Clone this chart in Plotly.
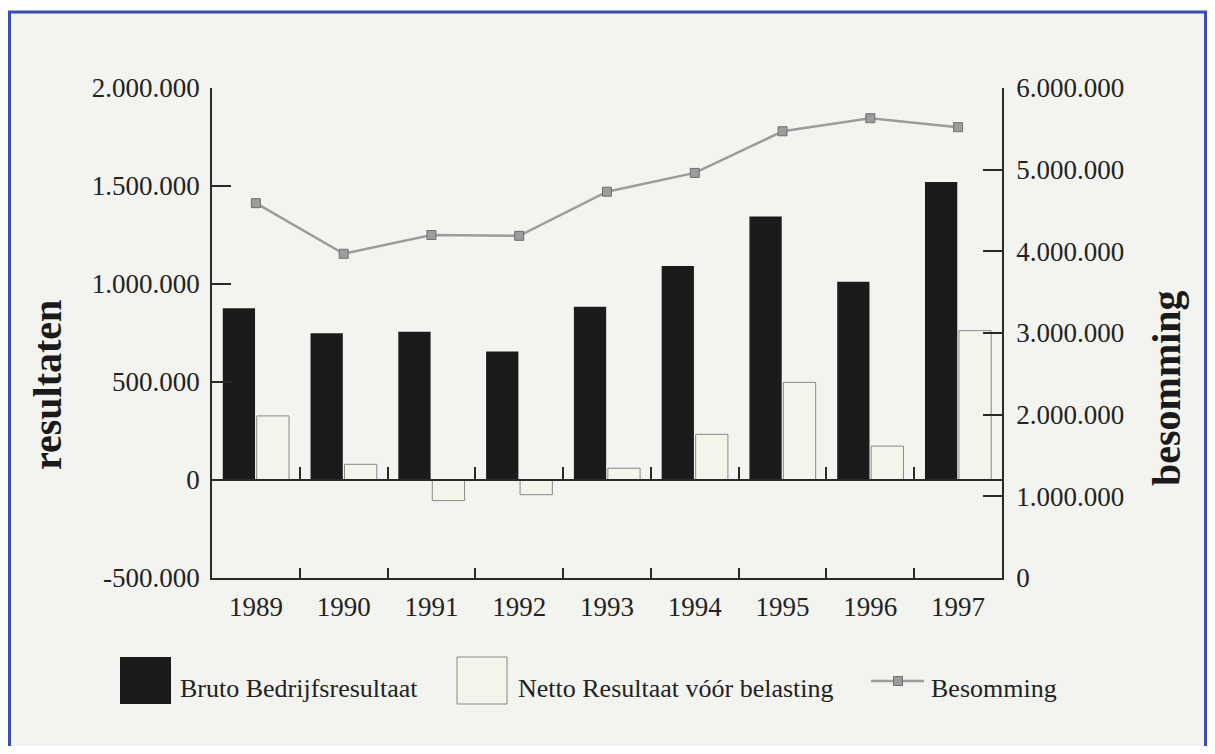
import plotly.graph_objects as go

# ---- data ----
years = ["1989", "1990", "1991", "1992", "1993", "1994", "1995", "1996", "1997"]
bruto = [876000, 749000, 757000, 655000, 884000, 1092000, 1344000, 1012000, 1520000]
netto = [327000, 80000, -105000, -75000, 60000, 233000, 498000, 173000, 762000]
besomming = [4590000, 3970000, 4200000, 4190000, 4730000, 4960000, 5470000, 5630000, 5520000]

left_tickvals = [-500000, 0, 500000, 1000000, 1500000, 2000000]
left_ticktext = ["-500.000", "0", "500.000", "1.000.000", "1.500.000", "2.000.000"]
right_tickvals = [0, 1000000, 2000000, 3000000, 4000000, 5000000, 6000000]
right_ticktext = ["0", "1.000.000", "2.000.000", "3.000.000", "4.000.000", "5.000.000", "6.000.000"]

names = ["Bruto Bedrijfsresultaat", "Netto Resultaat vóór belasting", "Besomming"]
titles = ["resultaten", "besomming"]

# ---- style ----
FONT = "Liberation Serif"
BLACK_BAR = "#1b1b1b"
LIGHT_BAR = "#f4f4ea"
LIGHT_EDGE = "#8a8a8a"
LINE_COL = "#9c9c9c"
MARK_EDGE = "#6f6f6f"
AXIS_COL = "#2a2a2a"
BG = "#f3f3f0"
BORDER = "#3b4db3"

# page geometry (screen px); the page body has an 8px margin
OFF = 8
W, H = 1215 - 2 * OFF, 754 - 2 * OFF
PL, PR, PT, PB = 212, 1002, 88, 578  # plot area on screen


def fx(p):
    return (p - PL) / (PR - PL)


def fy(p):
    return (PB - p) / (PB - PT)


fig = go.Figure()
fig.add_trace(go.Bar(x=years, y=bruto, name=names[0], marker=dict(color=BLACK_BAR, line=dict(width=0)),
                     showlegend=False))
fig.add_trace(go.Bar(x=years, y=netto, name=names[1],
                     marker=dict(color=LIGHT_BAR, line=dict(color=LIGHT_EDGE, width=1)), showlegend=False))
fig.add_trace(go.Scatter(x=years, y=besomming, name=names[2], xaxis="x2", yaxis="y2", mode="lines+markers",
                         line=dict(color=LINE_COL, width=2.5),
                         marker=dict(symbol="square", size=9, color=LINE_COL, line=dict(color=MARK_EDGE, width=1)),
                         showlegend=False))

tickfont = dict(family=FONT, size=27, color="#222222")
zero_pos = (0 - left_tickvals[0]) / (left_tickvals[-1] - left_tickvals[0])

fig.update_layout(
    width=W, height=H,
    margin=dict(l=PL - OFF, r=(1215 - OFF) - PR, t=PT - OFF, b=(754 - OFF) - PB, pad=0),
    paper_bgcolor="white",
    plot_bgcolor="rgba(0,0,0,0)",
    barmode="group", bargap=0.226, bargroupgap=0.05,
    font=dict(family=FONT, color="#222222"),
    xaxis=dict(type="category", categoryorder="array", categoryarray=years,
               range=[-0.5, len(years) - 0.5], showgrid=False, zeroline=False,
               showline=True, linecolor=AXIS_COL, linewidth=1.5, ticks="inside", tickson="boundaries",
               ticklen=10, tickcolor=AXIS_COL, tickwidth=1.5, tickfont=tickfont, ticklabelstandoff=4),
    xaxis2=dict(type="category", categoryorder="array", categoryarray=years, overlaying="x",
                anchor="free", position=zero_pos, range=[-0.5, len(years) - 0.5],
                showgrid=False, zeroline=False, showline=True, linecolor=AXIS_COL, linewidth=1.5,
                ticks="inside", tickson="boundaries", ticklen=12, tickcolor=AXIS_COL, tickwidth=1.5,
                showticklabels=False),
    yaxis=dict(range=[left_tickvals[0], left_tickvals[-1]], tickvals=left_tickvals, ticktext=left_ticktext,
               showgrid=False, zeroline=False, showline=True, linecolor=AXIS_COL, linewidth=1.5,
               ticks="inside", ticklen=19, tickcolor=AXIS_COL, tickwidth=1.5, tickfont=tickfont,
               ticklabelstandoff=5),
    yaxis2=dict(range=[right_tickvals[0], right_tickvals[-1]], tickvals=right_tickvals, ticktext=right_ticktext,
                overlaying="y", anchor="x", side="right", showgrid=False, zeroline=False, showline=True,
                linecolor=AXIS_COL, linewidth=1.5, ticks="inside", ticklen=19, tickcolor=AXIS_COL,
                tickwidth=1.5, tickfont=tickfont, ticklabelstandoff=7),
)

shapes = [
    # background panel with blue border
    dict(type="rect", xref="paper", yref="paper", x0=fx(9.5), x1=fx(1205.5), y0=fy(790), y1=fy(12),
         fillcolor=BG, line=dict(color=BORDER, width=3), layer="below"),
    # legend swatches
    dict(type="rect", xref="paper", yref="paper", x0=fx(120), x1=fx(171), y0=fy(704), y1=fy(657),
         fillcolor=BLACK_BAR, line=dict(width=0)),
    dict(type="rect", xref="paper", yref="paper", x0=fx(457), x1=fx(507), y0=fy(704), y1=fy(657),
         fillcolor=LIGHT_BAR, line=dict(color=LIGHT_EDGE, width=1)),
    dict(type="line", xref="paper", yref="paper", x0=fx(871), x1=fx(924), y0=fy(681), y1=fy(681),
         line=dict(color=LINE_COL, width=2.5)),
    dict(type="rect", xref="paper", yref="paper", x0=fx(893.5), x1=fx(902.5), y0=fy(685.5), y1=fy(676.5),
         fillcolor=LINE_COL, line=dict(color=MARK_EDGE, width=1)),
]

legfont = dict(family=FONT, size=26, color="#222222")
annotations = [
    dict(text=titles[0], xref="paper", yref="paper", x=fx(48), y=fy(385), textangle=-90, showarrow=False,
         xanchor="center", yanchor="middle", font=dict(family=FONT, size=40, color="#1a1a1a", weight="bold")),
    dict(text=titles[1], xref="paper", yref="paper", x=fx(1166), y=fy(388), textangle=-90, showarrow=False,
         xanchor="center", yanchor="middle", font=dict(family=FONT, size=40, color="#1a1a1a", weight="bold")),
    dict(text=names[0], xref="paper", yref="paper", x=fx(178), y=fy(688), showarrow=False,
         xanchor="left", yanchor="middle", font=legfont),
    dict(text=names[1], xref="paper", yref="paper", x=fx(516), y=fy(688), showarrow=False,
         xanchor="left", yanchor="middle", font=legfont),
    dict(text=names[2], xref="paper", yref="paper", x=fx(929), y=fy(688), showarrow=False,
         xanchor="left", yanchor="middle", font=legfont),
]
fig.update_layout(shapes=shapes, annotations=annotations)

fig.write_html("out.html")
